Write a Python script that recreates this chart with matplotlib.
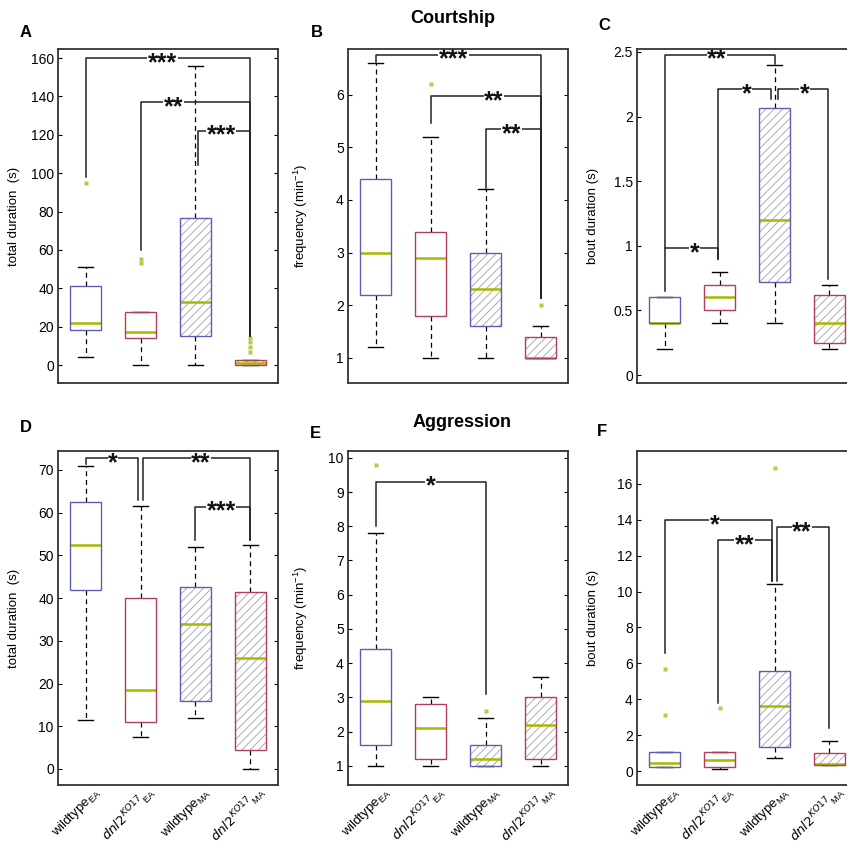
import matplotlib
matplotlib.use('Agg')
import matplotlib.pyplot as plt
import matplotlib.transforms as mtransforms
from matplotlib.patches import PathPatch
from matplotlib.ticker import FormatStrFormatter

plt.rcParams['font.family'] = ['Liberation Sans', 'DejaVu Sans']
plt.rcParams['mathtext.default'] = 'regular'
plt.rcParams['hatch.linewidth'] = 0.6

# group names (x tick labels)
groups = [r'wildtype$_{EA}$', r'$\mathit{dnl2}^{\mathit{KO17}}$$_{EA}$',
          r'wildtype$_{MA}$', r'$\mathit{dnl2}^{\mathit{KO17}}$$_{MA}$']

# A - courtship total duration
A_low = [4, 0, 0, 0]
A_q1 = [18, 14, 15, 0]
A_med = [22, 17, 33, 0.8]
A_q3 = [41, 27.5, 76.5, 2.5]
A_high = [51, 27.5, 156, 2.5]
A_out = [[95], [53, 55], [], [7, 9.5, 12, 14]]

# B - courtship frequency
B_low = [1.2, 1.0, 1.0, 1.0]
B_q1 = [2.2, 1.8, 1.6, 1.0]
B_med = [3.0, 2.9, 2.3, 1.0]
B_q3 = [4.4, 3.4, 3.0, 1.4]
B_high = [6.6, 5.2, 4.2, 1.6]
B_out = [[], [6.2], [], [2.0]]

# C - courtship bout duration
C_low = [0.2, 0.4, 0.4, 0.2]
C_q1 = [0.4, 0.5, 0.72, 0.25]
C_med = [0.4, 0.6, 1.2, 0.4]
C_q3 = [0.6, 0.7, 2.07, 0.62]
C_high = [0.6, 0.8, 2.4, 0.7]
C_out = [[], [], [], []]

# D - aggression total duration
D_low = [11.5, 7.5, 12, 0]
D_q1 = [42, 11, 16, 4.5]
D_med = [52.5, 18.5, 34, 26]
D_q3 = [62.5, 40, 42.5, 41.5]
D_high = [71, 61.5, 52, 52.5]
D_out = [[], [], [], []]

# E - aggression frequency
E_low = [1.0, 1.0, 1.0, 1.0]
E_q1 = [1.6, 1.2, 1.0, 1.2]
E_med = [2.9, 2.1, 1.2, 2.2]
E_q3 = [4.4, 2.8, 1.6, 3.0]
E_high = [7.8, 3.0, 2.4, 3.6]
E_out = [[9.8], [], [2.6], []]

# F - aggression bout duration
F_low = [0.22, 0.1, 0.75, 0.32]
F_q1 = [0.22, 0.22, 1.33, 0.32]
F_med = [0.45, 0.6, 3.65, 0.37]
F_q3 = [1.06, 1.06, 5.55, 1.0]
F_high = [1.06, 1.06, 10.4, 1.7]
F_out = [[3.1, 5.7], [3.5], [16.9], []]

# significance brackets: x1, y1 end, x2, y2 end, bar height, label, label x
A_sig = [(1, 98, 4, 15, 160, '***', 2.4), (2, 60, 4, 15, 137, '**', 2.6),
         (3.05, 104, 4, 15, 122, '***', 3.47)]
B_sig = [(1, 6.62, 4, 2.14, 6.76, '***', 2.42), (2, 5.47, 4, 2.14, 5.97, '**', 3.15),
         (3, 4.23, 4, 2.14, 5.34, '**', 3.47)]
C_sig = [(1, 0.65, 3, 2.41, 2.48, '**', 1.95), (1.97, 0.9, 2.93, 2.14, 2.21, '*', 2.5),
         (3.07, 2.14, 3.98, 0.74, 2.21, '*', 3.55), (1, 0.98, 1.97, 0.9, 0.98, '*', 1.55)]
D_sig = [(1, 71.5, 1.95, 63, 72.8, '*', 1.5), (2.05, 63, 4, 53.5, 72.8, '**', 3.1),
         (3, 53.5, 4, 53.5, 61.4, '***', 3.47)]
E_sig = [(1, 8.0, 3, 3.1, 9.3, '*', 2.0)]
F_sig = [(1, 6.6, 2.95, 10.6, 13.98, '*', 1.91), (1.98, 3.8, 2.95, 10.6, 12.87, '**', 2.45),
         (3.04, 10.6, 4, 2.4, 13.6, '**', 3.5)]

edge_cols = ['#5b5fae', '#b0405a', '#5b5fae', '#b0405a']
hatched = [False, False, True, True]


def draw_panel(ax, low, q1, med, q3, high, out, sig, ylim, yticks, ylabel):
    stats = []
    for i in range(4):
        stats.append(dict(whislo=low[i], q1=q1[i], med=med[i], q3=q3[i], whishi=high[i], fliers=out[i]))
    bp = ax.bxp(stats, positions=[1, 2, 3, 4], widths=0.55, capwidths=0.28, patch_artist=True,
                whiskerprops=dict(color='k', linestyle=(0, (4, 3)), lw=0.9),
                capprops=dict(color='k', lw=1.0),
                medianprops=dict(color='#a9b800', lw=1.8),
                flierprops=dict(marker='s', ms=2.5, mfc='#b9c84a', mec='none'))
    for i, box in enumerate(bp['boxes']):
        box.set_facecolor('none')
        box.set_edgecolor(edge_cols[i])
        box.set_linewidth(1.0)
        box.set_zorder(2.5)
        back = PathPatch(box.get_path(), facecolor='white', edgecolor='#a0a0b0', lw=0,
                         hatch='////' if hatched[i] else None, zorder=1.9)
        ax.add_patch(back)
    for x1, y1, x2, y2, h, txt, tx in sig:
        ax.plot([x1, x1, x2, x2], [y1, h, h, y2], color='#222222', lw=1.1, zorder=3)
        # asterisks sit high in the font, so put the baseline below the bar
        ax.annotate(txt, (tx, h), xytext=(0, -8.5), textcoords='offset points',
                    ha='center', va='baseline', fontsize=18, fontweight='bold',
                    color='#111111', zorder=4,
                    bbox=dict(facecolor='white', edgecolor='none', pad=0.3))
    ax.set_xlim(0.5, 4.5)
    ax.set_ylim(*ylim)
    ax.set_yticks(yticks)
    ax.yaxis.set_major_formatter(FormatStrFormatter('%g'))
    ax.set_ylabel(ylabel, fontsize=9.5)
    ax.yaxis.set_label_coords(-0.175, 0.5)
    ax.tick_params(axis='y', direction='in', right=True, length=3, labelsize=10, pad=3)
    ax.tick_params(axis='x', length=0)
    for sp in ax.spines.values():
        sp.set_color('#333333')
        sp.set_linewidth(1.3)
        sp.set_zorder(5)


fig = plt.figure(figsize=(8.47, 8.48), dpi=100)
lefts = [0.0685, 0.4109, 0.7521]
w, h = 0.2597, 0.3939
axA = fig.add_axes([lefts[0], 0.5483, w, h])
axB = fig.add_axes([lefts[1], 0.5483, w, h])
axC = fig.add_axes([lefts[2], 0.5483, w, h])
axD = fig.add_axes([lefts[0], 0.0743, w, h])
axE = fig.add_axes([lefts[1], 0.0743, w, h])
axF = fig.add_axes([lefts[2], 0.0743, w, h])

draw_panel(axA, A_low, A_q1, A_med, A_q3, A_high, A_out, A_sig, (-9.4, 164.7),
           range(0, 161, 20), 'total duration  (s)')
draw_panel(axB, B_low, B_q1, B_med, B_q3, B_high, B_out, B_sig, (0.52, 6.87),
           range(1, 7), r'frequency (min$^{-1}$)')
draw_panel(axC, C_low, C_q1, C_med, C_q3, C_high, C_out, C_sig, (-0.062, 2.523),
           [0, 0.5, 1, 1.5, 2, 2.5], 'bout duration (s)')
draw_panel(axD, D_low, D_q1, D_med, D_q3, D_high, D_out, D_sig, (-3.75, 74.45),
           range(0, 71, 10), 'total duration  (s)')
draw_panel(axE, E_low, E_q1, E_med, E_q3, E_high, E_out, E_sig, (0.44, 10.2),
           range(1, 11), r'frequency (min$^{-1}$)')
draw_panel(axF, F_low, F_q1, F_med, F_q3, F_high, F_out, F_sig, (-0.78, 17.84),
           range(0, 17, 2), 'bout duration (s)')

for ax in [axA, axB, axC]:
    ax.set_xticklabels([])
shift = mtransforms.ScaledTranslation(0.13, 0.0, fig.dpi_scale_trans)
for ax in [axD, axE, axF]:
    ax.set_xticklabels(groups, rotation=45, ha='right', va='center', rotation_mode='anchor', fontsize=9.5)
    for lab in ax.get_xticklabels():
        lab.set_transform(lab.get_transform() + shift)

# panel letters and titles
fig.text(0.030, 0.962, 'A', fontsize=12, fontweight='bold', ha='center', va='center')
fig.text(0.374, 0.962, 'B', fontsize=12, fontweight='bold', ha='center', va='center')
fig.text(0.714, 0.970, 'C', fontsize=12, fontweight='bold', ha='center', va='center')
fig.text(0.030, 0.496, 'D', fontsize=12, fontweight='bold', ha='center', va='center')
fig.text(0.373, 0.489, 'E', fontsize=12, fontweight='bold', ha='center', va='center')
fig.text(0.711, 0.491, 'F', fontsize=12, fontweight='bold', ha='center', va='center')
fig.text(0.535, 0.978, 'Courtship', fontsize=13, fontweight='bold', ha='center', va='center')
fig.text(0.545, 0.502, 'Aggression', fontsize=13, fontweight='bold', ha='center', va='center')

fig.savefig('out.png', dpi=100)
